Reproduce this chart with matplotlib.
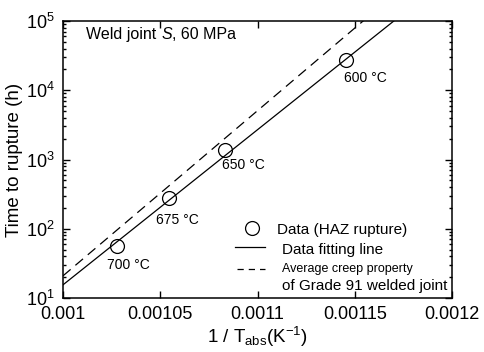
import numpy as np
import matplotlib
matplotlib.use("Agg")
import matplotlib.pyplot as plt
from matplotlib.lines import Line2D
from matplotlib.transforms import offset_copy

plt.rcParams['font.family'] = ['Liberation Sans', 'DejaVu Sans']
plt.rcParams['mathtext.fontset'] = 'custom'
plt.rcParams['mathtext.rm'] = 'Liberation Sans'
plt.rcParams['mathtext.it'] = 'Liberation Sans:italic'

# test temperatures (deg C) and rupture times (h)
tempsC = [700, 675, 650, 600]
ruptureHours = [56, 275, 1370, 27300]

# log10(t) = intercept + slope * (1/T)
fitSlope, fitIntercept = 22400.0, -21.21      # data fitting line
avgSlope, avgIntercept = 23850.0, -22.53      # Grade 91 welded joint average

xTicks = [0.001, 0.00105, 0.0011, 0.00115, 0.0012]
xTickLabels = ["0.001", "0.00105", "0.0011", "0.00115", "0.0012"]

invT = [1.0 / (t + 273.15) for t in tempsC]

fig = plt.figure(figsize=(4.84, 3.52), dpi=100)
ax = fig.add_axes([63 / 484, 54 / 352, 389 / 484, 277 / 352])

xs = np.linspace(0.001, 0.0012, 200)
ax.plot(xs, 10 ** (fitIntercept + fitSlope * xs), color='black', lw=0.9)
ax.plot(xs, 10 ** (avgIntercept + avgSlope * xs), color='black', lw=0.9,
        dashes=(8, 5))
ax.plot(invT, ruptureHours, 'o', ms=10, mfc='none', mec='black', mew=0.9)

# temperature labels next to each point (pixel offsets)
offsets = {700: (-10, -19), 675: (-13, -22), 650: (-3, -15), 600: (-2, -18)}
for t, x, y in zip(tempsC, invT, ruptureHours):
    ax.annotate(f"{t} °C", (x, y), xytext=offsets[t], textcoords='offset pixels',
                ha='left', va='center', fontsize=10)

ax.set_yscale('log')
ax.set_xlim(0.001, 0.0012)
ax.set_ylim(10, 1e5)
ax.set_xticks(xTicks)
ax.set_xticklabels(xTickLabels)
ax.tick_params(which='both', direction='in', top=True, right=True,
               labelsize=13, width=1)
ax.tick_params(which='major', length=5, pad=6)
ax.tick_params(which='minor', length=2.5)
for s in ax.spines.values():
    s.set_linewidth(1.1)

ax.set_ylabel("Time to rupture (h)", fontsize=13.5, labelpad=2)
ax.set_xlabel(r"1 / T$_{\rm abs}$(K$^{-1}$)", fontsize=13.5, labelpad=1)

# title with italic S, built from pieces placed one after another
fig.canvas.draw()
renderer = fig.canvas.get_renderer()
tr = ax.transAxes
xPos = 0.06
for piece, style in [("Weld joint ", 'normal'), ("S", 'italic'), (", 60 MPa", 'normal')]:
    t = ax.text(xPos, 0.95, piece, transform=tr, fontsize=11.5, style=style,
                ha='left', va='center')
    w = t.get_window_extent(renderer).width
    xPos += w / ax.get_window_extent(renderer).width

# hand-built legend
ax.add_line(Line2D([0.485], [0.253], transform=tr, marker='o', ms=10,
                   mfc='none', mec='black', mew=0.9, ls='none'))
ax.text(0.55, 0.245, "Data (HAZ rupture)", transform=tr, fontsize=11, va='center')
ax.add_line(Line2D([0.442, 0.519], [0.184, 0.184], transform=tr, color='black', lw=0.9))
ax.text(0.564, 0.174, "Data fitting line", transform=tr, fontsize=11, va='center')
ax.add_line(Line2D([0.447, 0.519], [0.105, 0.105], transform=tr, color='black',
                   lw=0.9, dashes=(5, 4)))
ax.text(0.564, 0.105, "Average creep property", transform=tr, fontsize=9, va='center')
ax.text(0.564, 0.043, "of Grade 91 welded joint", transform=tr, fontsize=11, va='center')

fig.savefig("out.png", dpi=100)
